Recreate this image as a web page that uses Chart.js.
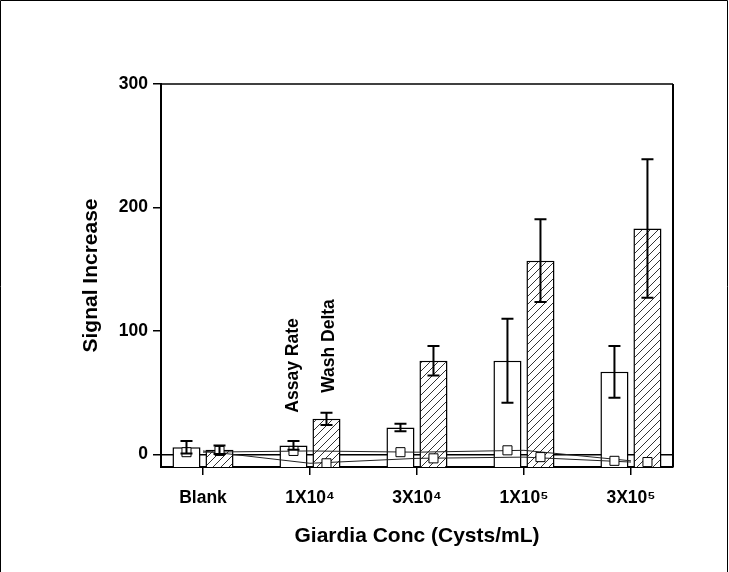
<!DOCTYPE html>
<html>
<head>
<meta charset="utf-8">
<script src="https://cdn.jsdelivr.net/npm/chart.js@4.4.1/dist/chart.umd.min.js"></script>
<style>
  body { margin: 0; background: #fff; }
  #wrap { width: 729px; height: 572px; position: relative; }
</style>
</head>
<body>
<div id="wrap"><canvas id="chart"></canvas></div>
<script>
// data
const categories = ["Blank", "1X10⁴", "3X10⁴", "1X10⁵", "3X10⁵"];
const assayRate = [6, 7.5, 22, 76, 67];
const assayRateErr = [5, 3.5, 3, 34, 21];
const washDelta = [4, 29, 76, 157, 183];
const washDeltaErr = [3.5, 5, 12, 33.5, 56];
const assayPoints = [2, 3, 2, 3.5, -5];
const washPoints = [3, -7, -3, -2, -6];
const yTicks = [0, 100, 200, 300];

const FONT = "'Liberation Sans', Arial, sans-serif";
const catPct = 0.617;
const sqShift = catPct / 4; // centre of each bar inside its group

function makeHatch() {
  const c = document.createElement("canvas");
  c.width = 8;
  c.height = 8;
  const g = c.getContext("2d");
  g.fillStyle = "#fff";
  g.fillRect(0, 0, 8, 8);
  g.strokeStyle = "#333";
  g.lineWidth = 1;
  g.beginPath();
  g.moveTo(0, 8); g.lineTo(8, 0);
  g.moveTo(-1, 1); g.lineTo(1, -1);
  g.moveTo(7, 9); g.lineTo(9, 7);
  g.stroke();
  return g.createPattern(c, "repeat");
}

// error bars on top of the bars
const errorBars = {
  id: "errorBars",
  afterDatasetsDraw(chart) {
    const ctx = chart.ctx;
    const y = chart.scales.y;
    [[0, assayRate, assayRateErr], [1, washDelta, washDeltaErr]].forEach(([ds, vals, errs]) => {
      chart.getDatasetMeta(ds).data.forEach((bar, i) => {
        const top = y.getPixelForValue(vals[i] + errs[i]);
        const bot = y.getPixelForValue(vals[i] - errs[i]);
        ctx.save();
        ctx.strokeStyle = "#000";
        ctx.lineWidth = 2;
        ctx.beginPath();
        ctx.moveTo(bar.x, top); ctx.lineTo(bar.x, bot);
        ctx.moveTo(bar.x - 6, top); ctx.lineTo(bar.x + 6, top);
        ctx.moveTo(bar.x - 6, bot); ctx.lineTo(bar.x + 6, bot);
        ctx.stroke();
        ctx.restore();
      });
    });
  }
};

// vertical series names above the 1X10^4 group, plot frame, page border
const decorations = {
  id: "decorations",
  afterDraw(chart) {
    const ctx = chart.ctx;
    const y = chart.scales.y;
    const a = chart.chartArea;
    [[0, "Assay Rate", 34, 0], [1, "Wash Delta", 50, 3]].forEach(([ds, text, v, dx]) => {
      const bar = chart.getDatasetMeta(ds).data[1];
      ctx.save();
      ctx.translate(bar.x + dx, y.getPixelForValue(v));
      ctx.rotate(-Math.PI / 2);
      ctx.font = "bold 17.5px " + FONT;
      ctx.textAlign = "left";
      ctx.textBaseline = "middle";
      ctx.fillStyle = "#000";
      ctx.fillText(text, 0, 0);
      ctx.restore();
    });

    ctx.save();
    ctx.strokeStyle = "#000";
    ctx.lineWidth = 1.5;
    ctx.beginPath();
    ctx.moveTo(a.left, a.top); ctx.lineTo(a.right, a.top);
    ctx.stroke();
    ctx.lineWidth = 2;
    ctx.beginPath();
    ctx.moveTo(a.right, a.top); ctx.lineTo(a.right, a.bottom);
    ctx.stroke();
    ctx.lineWidth = 1;
    ctx.beginPath();
    ctx.moveTo(0.5, 572); ctx.lineTo(0.5, 0.5); ctx.lineTo(727.5, 0.5); ctx.lineTo(727.5, 572);
    ctx.stroke();
    ctx.restore();
  }
};

const tickFont = { family: FONT, size: 17.5, weight: "bold" };
const titleFont = { family: FONT, size: 21, weight: "bold" };

new Chart(document.getElementById("chart"), {
  type: "bar",
  data: {
    datasets: [
      {
        label: "Assay Rate",
        data: assayRate.map((v, i) => ({ x: i, y: v })),
        backgroundColor: "#fff",
        borderColor: "#000",
        borderWidth: 1.5,
        base: -10,
        order: 3,
      },
      {
        label: "Wash Delta",
        data: washDelta.map((v, i) => ({ x: i, y: v })),
        backgroundColor: makeHatch(),
        borderColor: "#000",
        borderWidth: 1.5,
        base: -10,
        order: 3,
      },
      {
        type: "line",
        data: assayPoints.map((v, i) => ({ x: i, y: v })),
        borderColor: "#222",
        borderWidth: 1,
        pointRadius: 0,
        order: 2,
      },
      {
        type: "line",
        data: washPoints.map((v, i) => ({ x: i, y: v })),
        borderColor: "#222",
        borderWidth: 1,
        pointRadius: 0,
        order: 2,
      },
      {
        type: "line",
        showLine: false,
        data: assayPoints.map((v, i) => ({ x: i - sqShift, y: v })),
        pointStyle: "rect",
        pointRadius: 6.4,
        borderColor: "#000",
        borderWidth: 1,
        backgroundColor: "#fff",
        order: 1,
      },
      {
        type: "line",
        showLine: false,
        data: washPoints.map((v, i) => ({ x: i + sqShift, y: v })),
        pointStyle: "rect",
        pointRadius: 6.4,
        borderColor: "#000",
        borderWidth: 1,
        backgroundColor: "#fff",
        order: 1,
      },
    ],
  },
  options: {
    responsive: true,
    maintainAspectRatio: false,
    animation: false,
    categoryPercentage: catPct,
    barPercentage: 0.85,
    layout: { padding: { top: 84, right: 56, left: 0, bottom: 0 } },
    plugins: { legend: { display: false }, tooltip: { enabled: false } },
    scales: {
      x: {
        type: "linear",
        min: -0.3925,
        max: 4.393,
        offset: false,
        afterBuildTicks: (axis) => { axis.ticks = categories.map((c, i) => ({ value: i })); },
        afterFit: (s) => { s.height = 105; },
        ticks: {
          callback: (v) => categories[v],
          autoSkip: false,
          maxRotation: 0,
          font: tickFont,
          color: "#000",
          padding: 13,
        },
        grid: { drawOnChartArea: false, offset: false, tickLength: 8, color: "#000", lineWidth: 1.5 },
        border: { color: "#000", width: 2 },
        title: { display: true, text: "Giardia Conc (Cysts/mL)", font: titleFont, color: "#000", padding: { bottom: 23 } },
      },
      y: {
        min: -10,
        max: 300,
        afterBuildTicks: (axis) => { axis.ticks = yTicks.map((v) => ({ value: v })); },
        afterFit: (s) => { s.width = 161; },
        ticks: { font: tickFont, color: "#000", padding: 5 },
        grid: {
          color: (c) => (c.tick && c.tick.value === 0 ? "#000" : "rgba(0,0,0,0)"),
          tickColor: "#000",
          tickLength: 8,
          lineWidth: 1.5,
        },
        border: { color: "#000", width: 2 },
        title: { display: true, text: "Signal Increase", font: titleFont, color: "#000", padding: { top: 79 } },
      },
    },
  },
  plugins: [errorBars, decorations],
});
</script>
</body>
</html>
